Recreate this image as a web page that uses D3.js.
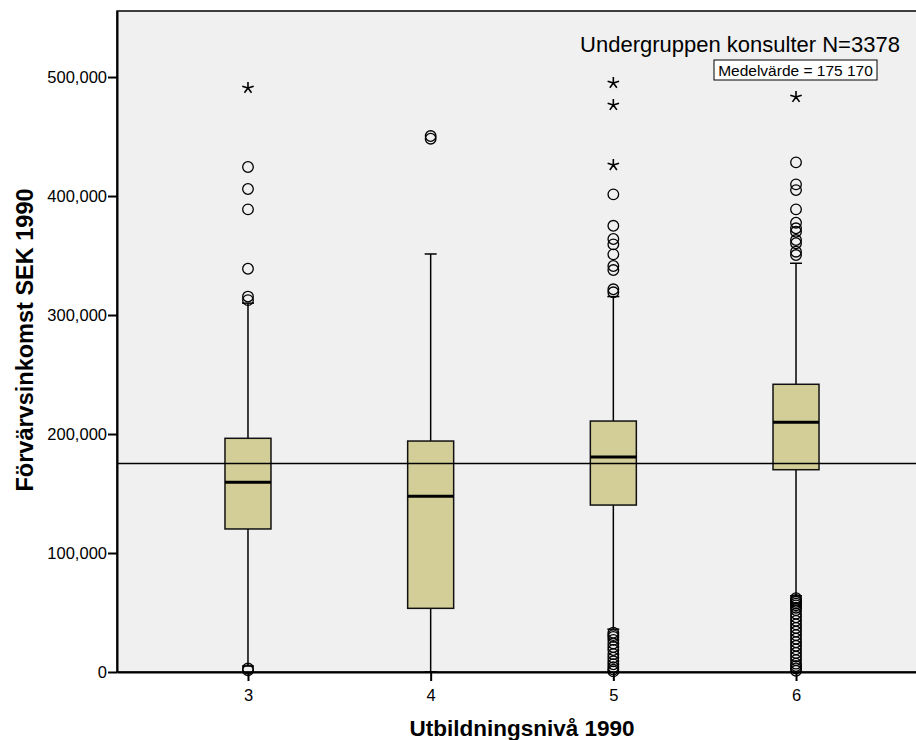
<!DOCTYPE html>
<html>
<head>
<meta charset="utf-8">
<script src="https://cdn.jsdelivr.net/npm/d3@7"></script>
<style>
  body { margin: 0; background: #fff; }
  text { font-family: "Liberation Sans", Arial, sans-serif; fill: #000; }
</style>
</head>
<body>
<script>
// categories (Utbildningsnivå 1990)
var categories = ["3", "4", "5", "6"];
// box stats
var q1       = [120200, 53500, 140300, 170000];
var medians  = [159400, 147600, 180700, 209800];
var q3       = [196400, 194100, 210900, 241800];
var whiskLo  = [5000, 0, 36000, 64000];
var whiskHi  = [310000, 351300, 315500, 343500];
// outliers (circles) and extremes (stars) per category
var outliers3 = [424400, 405900, 388800, 338900, 315500, 312500, 3000, 1500];
var outliers4 = [450400, 448200];
var outliers5 = [401400, 375000, 363900, 359400, 351000, 341200, 337800, 321600, 319100,
                 33000, 31000, 29500, 27000, 24000, 21000, 18500, 15000, 12000, 9000, 6500, 4000, 2000, 500];
var outliers6 = [428300, 409800, 405000, 388800, 377600, 372900, 370000, 363000, 360300, 353200, 350400,
                 62000, 60500, 59000, 57500, 56000, 54000, 52000, 49000, 46000, 43000, 40000, 37000,
                 34000, 31000, 28000, 25000, 22000, 19000, 16000, 13000, 10000, 7000, 5000, 3000, 1000];
var extremes3 = [490800];
var extremes4 = [];
var extremes5 = [495000, 476500, 426000];
var extremes6 = [483200];
var meanValue = 175170;
var yTicks = [0, 100000, 200000, 300000, 400000, 500000];

var width = 916, height = 740;
var plotL = 117, plotT = 11, plotR = 927, plotB = 672;

var svg = d3.select("body").append("svg")
    .attr("width", width)
    .attr("height", height);

var x = d3.scalePoint().domain(categories).range([plotL, plotR]).padding(0.717);
var y = d3.scaleLinear().domain([0, 555500]).range([plotB, plotT]);

// plot background
svg.append("rect")
   .attr("x", plotL).attr("y", plotT)
   .attr("width", plotR - plotL).attr("height", plotB - plotT)
   .attr("fill", "#f0f0f0")
   .attr("stroke", "#000").attr("stroke-width", 1.5);

var fmt = d3.format(",");

// y axis
var yAxis = svg.append("g")
   .attr("transform", "translate(" + plotL + ",0)")
   .call(d3.axisLeft(y).tickValues(yTicks).tickFormat(fmt).tickSize(9).tickSizeOuter(0).tickPadding(1));
yAxis.select(".domain").attr("stroke-width", 2);
yAxis.selectAll(".tick line").attr("stroke-width", 2);
yAxis.selectAll("text").style("font-size", "16.5px").attr("fill", "#000");

// x axis
var xAxis = svg.append("g")
   .attr("transform", "translate(0," + plotB + ")")
   .call(d3.axisBottom(x).tickSize(9).tickSizeOuter(0).tickPadding(8));
xAxis.select(".domain").attr("stroke-width", 2);
xAxis.selectAll(".tick line").attr("stroke-width", 2);
xAxis.selectAll("text").style("font-size", "16.5px").attr("fill", "#000");

// boxes
var boxW = 46, capW = 12;
var rows = categories.map(function(c, i){
    return {cat: c, q1: q1[i], med: medians[i], q3: q3[i], lo: whiskLo[i], hi: whiskHi[i]};
});
var g = svg.append("g");
rows.forEach(function(d){
    var cx = x(d.cat);
    g.append("line").attr("x1", cx).attr("x2", cx).attr("y1", y(d.q3)).attr("y2", y(d.hi))
     .attr("stroke", "#000").attr("stroke-width", 1.5);
    g.append("line").attr("x1", cx).attr("x2", cx).attr("y1", y(d.q1)).attr("y2", y(d.lo))
     .attr("stroke", "#000").attr("stroke-width", 1.5);
    g.append("line").attr("x1", cx - capW/2).attr("x2", cx + capW/2).attr("y1", y(d.hi)).attr("y2", y(d.hi))
     .attr("stroke", "#000").attr("stroke-width", 1.5);
    g.append("line").attr("x1", cx - capW/2).attr("x2", cx + capW/2).attr("y1", y(d.lo)).attr("y2", y(d.lo))
     .attr("stroke", "#000").attr("stroke-width", 1.5);
    g.append("rect")
     .attr("x", cx - boxW/2).attr("y", y(d.q3))
     .attr("width", boxW).attr("height", y(d.q1) - y(d.q3))
     .attr("fill", "#d3ce97").attr("stroke", "#111").attr("stroke-width", 1.5);
    g.append("line").attr("x1", cx - boxW/2).attr("x2", cx + boxW/2).attr("y1", y(d.med)).attr("y2", y(d.med))
     .attr("stroke", "#000").attr("stroke-width", 3);
});

// asterisk-like star: five thin spokes
var starR = 6;
var starPath = d3.range(5).map(function(k){
    var a = -Math.PI / 2 + k * 2 * Math.PI / 5;
    return "M0,0L" + (starR * Math.cos(a)).toFixed(2) + "," + (starR * Math.sin(a)).toFixed(2);
}).join("");

// outliers
var outs = [outliers3, outliers4, outliers5, outliers6];
var exts = [extremes3, extremes4, extremes5, extremes6];
categories.forEach(function(c, i){
    g.selectAll(".o" + c).data(outs[i]).enter().append("circle")
     .attr("cx", x(c)).attr("cy", function(v){ return y(v); })
     .attr("r", 5.3)
     .attr("fill", "none").attr("stroke", "#000").attr("stroke-width", 1.3);
    g.selectAll(".e" + c).data(exts[i]).enter().append("path")
     .attr("transform", function(v){ return "translate(" + x(c) + "," + y(v) + ")"; })
     .attr("d", starPath)
     .attr("fill", "none").attr("stroke", "#000").attr("stroke-width", 1.6);
});

// mean line
svg.append("line")
   .attr("x1", plotL).attr("x2", plotR)
   .attr("y1", y(meanValue)).attr("y2", y(meanValue))
   .attr("stroke", "#000").attr("stroke-width", 1.5);

// annotations
svg.append("text").attr("x", 740).attr("y", 52)
   .attr("text-anchor", "middle").style("font-size", "22px")
   .text("Undergruppen konsulter N=3378");
svg.append("rect").attr("x", 714).attr("y", 60).attr("width", 163).attr("height", 20)
   .attr("fill", "#fff").attr("stroke", "#000").attr("stroke-width", 1);
svg.append("text").attr("x", 795.5).attr("y", 76)
   .attr("text-anchor", "middle").style("font-size", "15.5px")
   .text("Medelvärde = 175 170");

// axis titles
svg.append("text")
   .attr("x", (plotL + plotR) / 2).attr("y", 736)
   .attr("text-anchor", "middle").style("font-size", "22.5px").style("font-weight", "bold")
   .text("Utbildningsnivå 1990");
svg.append("text")
   .attr("transform", "translate(33,340) rotate(-90)")
   .attr("text-anchor", "middle").style("font-size", "23.5px").style("font-weight", "bold")
   .text("Förvärvsinkomst SEK 1990");
</script>
</body>
</html>
